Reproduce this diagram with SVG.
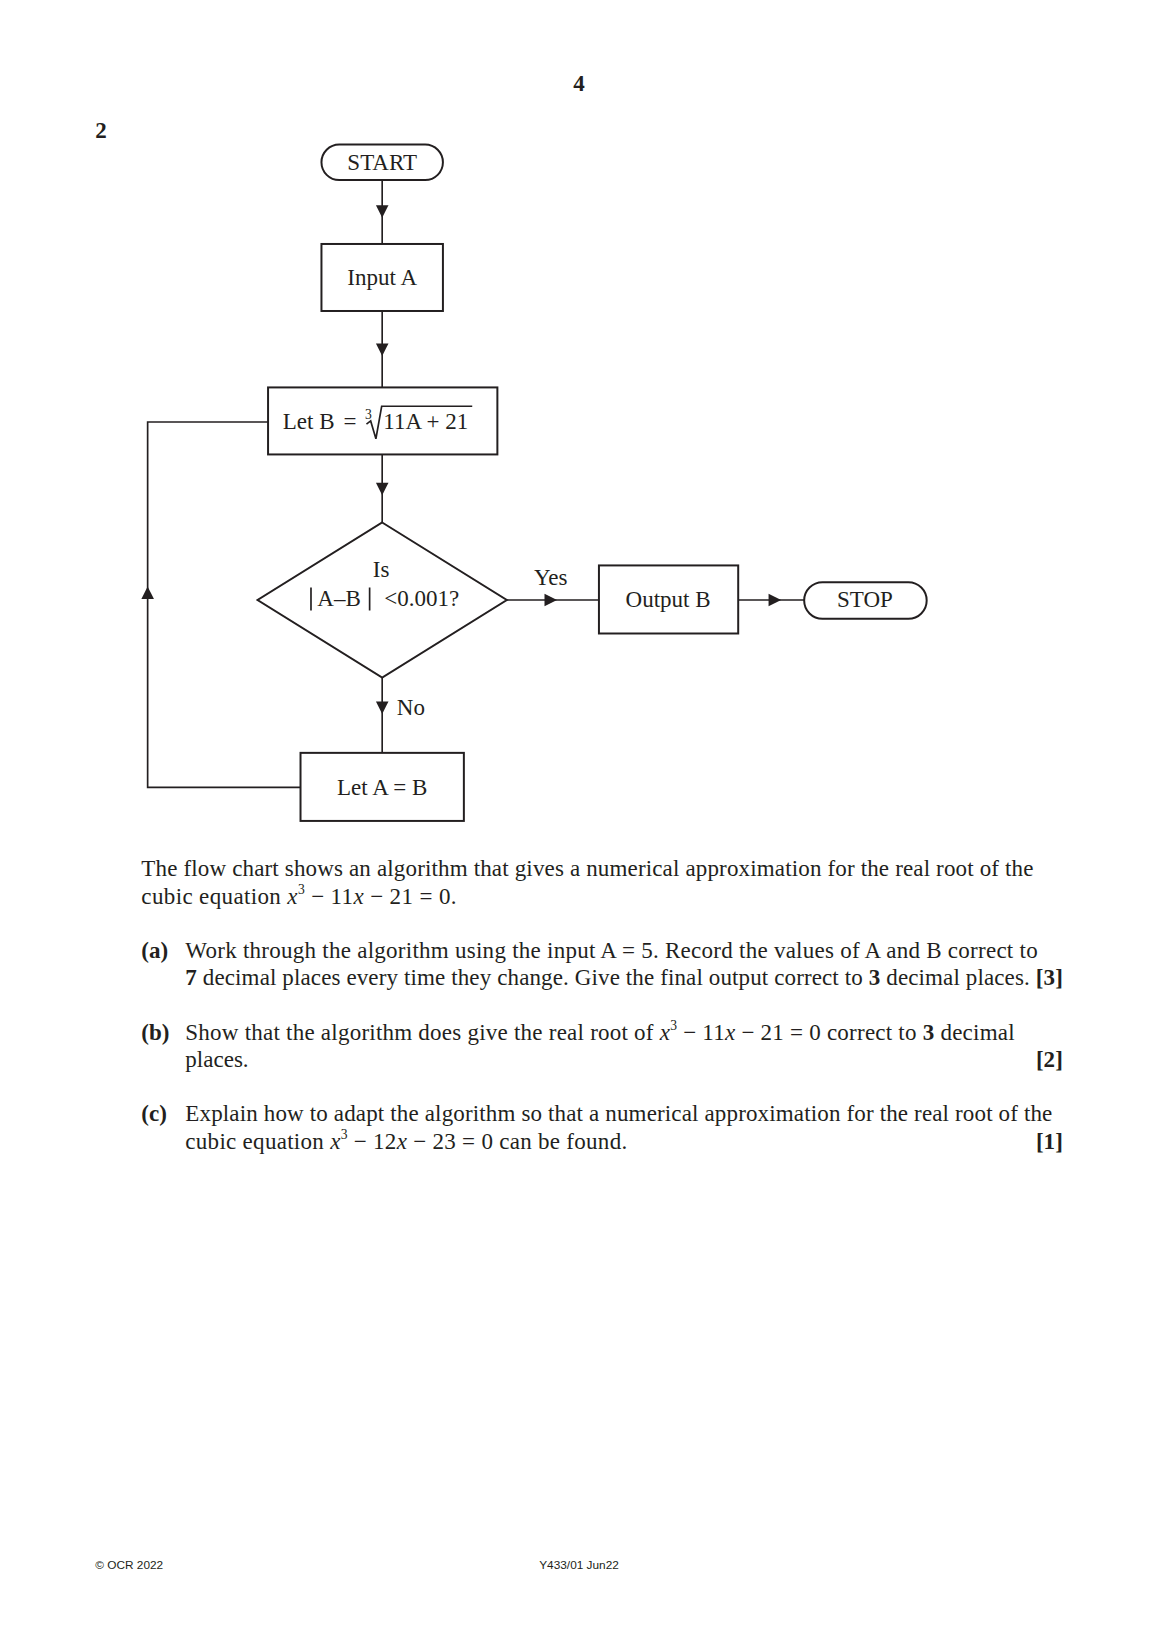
<svg xmlns="http://www.w3.org/2000/svg" width="1158" height="1638" viewBox="0 0 1158 1638">
<style>
.t{font-family:"Liberation Serif","Times New Roman",serif;font-size:22px;fill:#231f20}
.n{font-family:"Liberation Serif","Times New Roman",serif;font-size:22px;fill:#231f20;text-anchor:middle}
.b{font-weight:bold}
.s{font-family:"Liberation Sans",Arial,sans-serif;font-size:11.3px;fill:#231f20}
.box{fill:#fff;stroke:#231f20;stroke-width:1.9}
.ln{fill:none;stroke:#231f20;stroke-width:1.6}
.ar{fill:#231f20}
</style>
<defs>
<path id="ad" d="M-6,-6 L6,-6 L0,6 Z"/>
<path id="ar" d="M-6,-6 L6,0 L-6,6 Z"/>
<path id="au" d="M-6,6 L6,6 L0,-6 Z"/>
</defs>
<rect width="1158" height="1638" fill="#fff"/>
<g transform="scale(1.0471)">
<text class="n b" x="553" y="87">4</text>
<text class="t b" x="91" y="132">2</text>

<g id="connectors">
<path class="ln" d="M365,172 V233"/>
<use href="#ad" x="365" y="202" class="ar"/>
<path class="ln" d="M365,297 V370"/>
<use href="#ad" x="365" y="334" class="ar"/>
<path class="ln" d="M365,434 V499"/>
<use href="#ad" x="365" y="467" class="ar"/>
<path class="ln" d="M484,573 H572"/>
<use href="#ar" x="526" y="573" class="ar"/>
<text class="n" x="526" y="559">Yes</text>
<path class="ln" d="M705,573 H768"/>
<use href="#ar" x="740" y="573" class="ar"/>
<path class="ln" d="M365,647 V719"/>
<use href="#ad" x="365" y="676" class="ar"/>
<text class="t" x="379" y="683">No</text>
<path class="ln" d="M287,752 H141 V403 H256"/>
<use href="#au" x="141" y="566" class="ar"/>
</g>

<g id="start">
<rect class="box" x="307" y="138" width="116" height="34" rx="17"/>
<text class="n" x="365" y="162">START</text>
</g>
<g id="inputA">
<rect class="box" x="307" y="233" width="116" height="64"/>
<text class="n" x="365" y="272">Input A</text>
</g>
<g id="letB">
<rect class="box" x="256" y="370" width="219" height="64"/>
<text class="t" x="270" y="410">Let B</text>
<text class="t" x="328" y="410">=</text>
<text class="t" x="348.5" y="400" style="font-size:13px">3</text>
<path class="ln" d="M350,405 L354,402 L359,419 L364.5,388 H451" stroke-width="1.3"/>
<text class="t" x="366" y="410">11A + 21</text>
</g>
<g id="decision">
<path class="box" d="M365,499 L484,573 L365,647 L246,573 Z"/>
<text class="n" x="364" y="551">Is</text>
<path class="ln" d="M297,561 V583 M353,561 V583" stroke-width="2"/>
<text class="t" x="303" y="579">A–B</text>
<text class="t" x="367" y="579">&lt;0.001?</text>
</g>
<g id="outputB">
<rect class="box" x="572" y="540" width="133" height="65"/>
<text class="n" x="638" y="580">Output B</text>
</g>
<g id="stop">
<rect class="box" x="768" y="556" width="117" height="35" rx="17.5"/>
<text class="n" x="826" y="580">STOP</text>
</g>
<g id="letA">
<rect class="box" x="287" y="719" width="156" height="65"/>
<text class="n" x="365" y="759">Let A = B</text>
</g>

<text class="t" x="135" y="837" textLength="852" lengthAdjust="spacing">The flow chart shows an algorithm that gives a numerical approximation for the real root of the</text>
<text class="t" x="135" y="863" textLength="301" lengthAdjust="spacing">cubic equation <tspan font-style="italic">x</tspan><tspan dy="-9" font-size="13">3</tspan><tspan dy="9"> − 11</tspan><tspan font-style="italic">x</tspan> − 21 = 0.</text>

<text class="t b" x="135" y="915">(a)</text>
<text class="t" x="177" y="915" textLength="814" lengthAdjust="spacing">Work through the algorithm using the input A = 5. Record the values of A and B correct to</text>
<text class="t" x="177" y="941" textLength="838" lengthAdjust="spacing"><tspan font-weight="bold">7</tspan> decimal places every time they change. Give the final output correct to <tspan font-weight="bold">3</tspan> decimal places. <tspan font-weight="bold">[3]</tspan></text>

<text class="t b" x="135" y="993">(b)</text>
<text class="t" x="177" y="993" textLength="792" lengthAdjust="spacing">Show that the algorithm does give the real root of <tspan font-style="italic">x</tspan><tspan dy="-9" font-size="13">3</tspan><tspan dy="9"> − 11</tspan><tspan font-style="italic">x</tspan> − 21 = 0 correct to <tspan font-weight="bold">3</tspan> decimal</text>
<text class="t" x="177" y="1019">places.</text>
<text class="t b" x="1015" y="1019" text-anchor="end">[2]</text>

<text class="t b" x="135" y="1071">(c)</text>
<text class="t" x="177" y="1071" textLength="828" lengthAdjust="spacing">Explain how to adapt the algorithm so that a numerical approximation for the real root of the</text>
<text class="t" x="177" y="1097" textLength="422" lengthAdjust="spacing">cubic equation <tspan font-style="italic">x</tspan><tspan dy="-9" font-size="13">3</tspan><tspan dy="9"> − 12</tspan><tspan font-style="italic">x</tspan> − 23 = 0 can be found.</text>
<text class="t b" x="1015" y="1097" text-anchor="end">[1]</text>

<text class="s" x="91" y="1498">© OCR 2022</text>
<text class="s" x="553" y="1498" text-anchor="middle">Y433/01 Jun22</text>
</g>
</svg>
